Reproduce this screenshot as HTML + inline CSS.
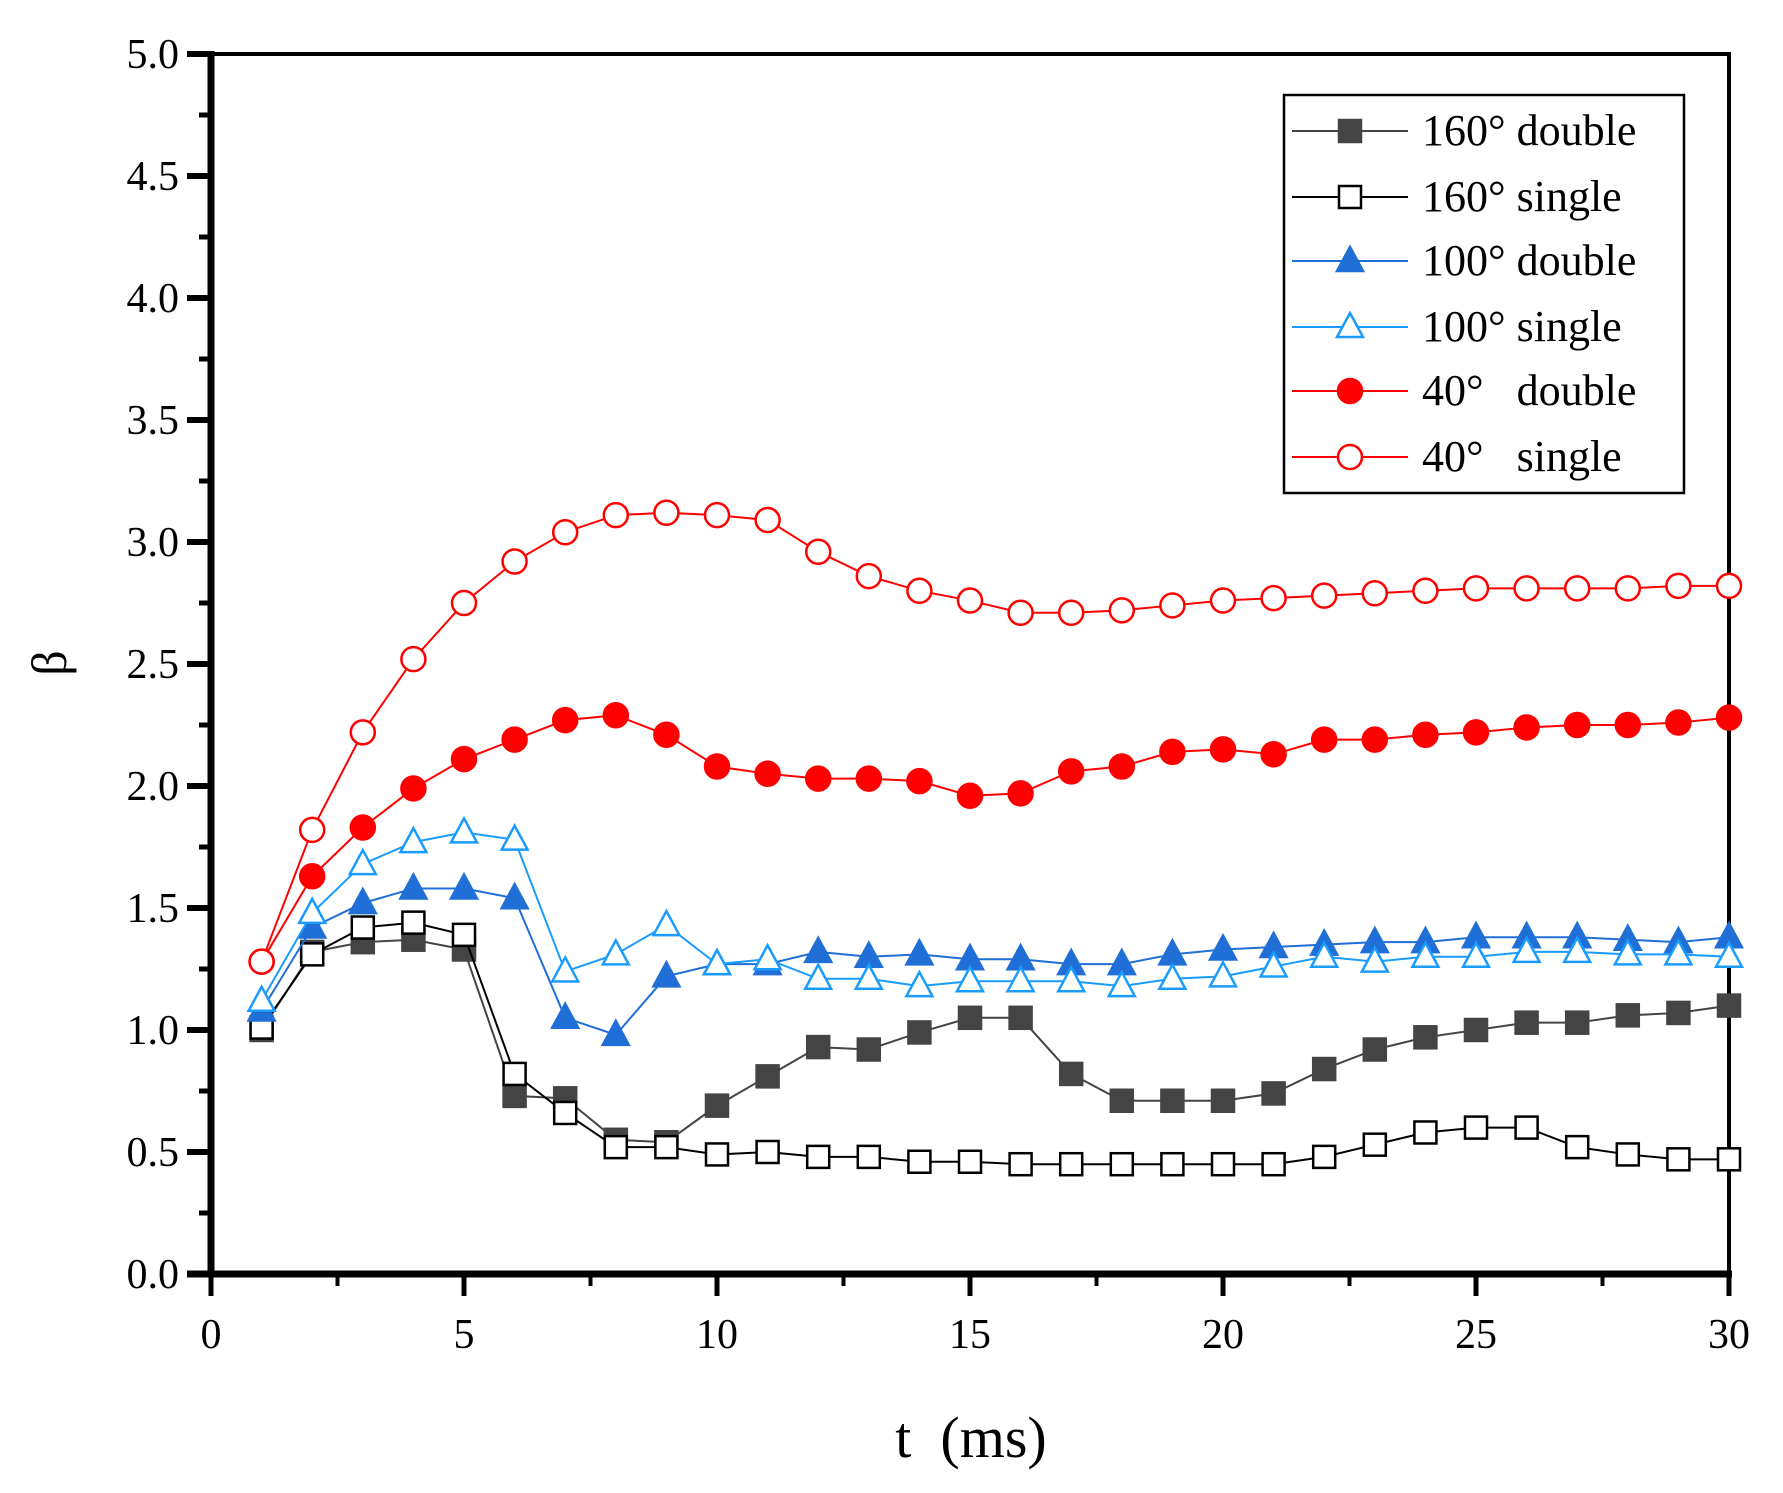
<!DOCTYPE html>
<html><head><meta charset="utf-8"><style>
html,body{margin:0;padding:0;background:#fff;}
svg{display:block;font-family:"Liberation Serif",serif;}
</style></head><body>
<svg id="chart" width="1783" height="1493" viewBox="0 0 1783 1493">
<g id="axes"></g>
<g id="series"></g>
<g id="legend"></g>
</svg>
<script>
const tValues = [1,2,3,4,5,6,7,8,9,10,11,12,13,14,15,16,17,18,19,20,21,22,23,24,25,26,27,28,29,30];
const d160double = [1.0,1.32,1.36,1.37,1.33,0.73,0.72,0.55,0.54,0.69,0.81,0.93,0.92,0.99,1.05,1.05,0.82,0.71,0.71,0.71,0.74,0.84,0.92,0.97,1.0,1.03,1.03,1.06,1.07,1.10];
const d160single = [1.01,1.31,1.42,1.44,1.39,0.82,0.66,0.52,0.52,0.49,0.50,0.48,0.48,0.46,0.46,0.45,0.45,0.45,0.45,0.45,0.45,0.48,0.53,0.58,0.60,0.60,0.52,0.49,0.47,0.47];
const d100double = [1.08,1.42,1.52,1.58,1.58,1.54,1.05,0.98,1.22,1.27,1.27,1.32,1.30,1.31,1.29,1.29,1.27,1.27,1.31,1.33,1.34,1.35,1.36,1.36,1.38,1.38,1.38,1.37,1.36,1.38];
const d100single = [1.12,1.48,1.68,1.77,1.81,1.78,1.24,1.31,1.43,1.27,1.29,1.21,1.21,1.18,1.20,1.20,1.20,1.18,1.21,1.22,1.26,1.30,1.28,1.30,1.30,1.32,1.32,1.31,1.31,1.30];
const d40double = [1.28,1.63,1.83,1.99,2.11,2.19,2.27,2.29,2.21,2.08,2.05,2.03,2.03,2.02,1.96,1.97,2.06,2.08,2.14,2.15,2.13,2.19,2.19,2.21,2.22,2.24,2.25,2.25,2.26,2.28];
const d40single = [1.28,1.82,2.22,2.52,2.75,2.92,3.04,3.11,3.12,3.11,3.09,2.96,2.86,2.80,2.76,2.71,2.71,2.72,2.74,2.76,2.77,2.78,2.79,2.80,2.81,2.81,2.81,2.81,2.82,2.82];
const xTicks = [0,5,10,15,20,25,30];
const yTicks = ["0.0","0.5","1.0","1.5","2.0","2.5","3.0","3.5","4.0","4.5","5.0"];
const legendLabels = ["160° double","160° single","100° double","100° single","40°   double","40°   single"];

const X0=211,X1=1729,Y0=1274,Y1=54;
function xs(v){return X0+(v-0)/30*(X1-X0);}
function ys(v){return Y0-(v-0)/5*(Y0-Y1);}
const NS="http://www.w3.org/2000/svg";
function mk(tag,attrs,parent){const e=document.createElementNS(NS,tag);for(const k in attrs)e.setAttribute(k,attrs[k]);parent.appendChild(e);return e;}
const axes=document.getElementById('axes');
const frame=mk('rect',{x:X0,y:Y1,width:X1-X0,height:Y0-Y1,fill:'none',stroke:'#000','stroke-width':4},axes);


const yl=mk('line',{x1:X0,y1:Y1-3,x2:X0,y2:Y0+3,stroke:'#000','stroke-width':7},axes);


const xl=mk('line',{x1:X0-24,y1:Y0,x2:X1+3,y2:Y0,stroke:'#000','stroke-width':7},axes);


yTicks.forEach((lab,i)=>{
  const v=parseFloat(lab),y=ys(v);
  const t=mk('line',{x1:X0-24,y1:y,x2:X0,y2:y,stroke:'#000','stroke-width':6},axes);
  
  
  const tx=mk('text',{x:X0-32,y:y+14,'text-anchor':'end','font-size':42},axes);
  tx.textContent=lab;
  
  
  if(i<yTicks.length-1){
    const m=mk('line',{x1:X0-12,y1:ys(v+0.25),x2:X0,y2:ys(v+0.25),stroke:'#000','stroke-width':5},axes);
    
    
  }
});
xTicks.forEach((v,i)=>{
  const x=xs(v);
  const t=mk('line',{x1:x,y1:Y0,x2:x,y2:Y0+22,stroke:'#000','stroke-width':5},axes);
  
  
  const tx=mk('text',{x:x,y:Y0+74,'text-anchor':'middle','font-size':42},axes);
  tx.textContent=v;
  
  
  if(i<xTicks.length-1){
    const m=mk('line',{x1:xs(v+2.5),y1:Y0,x2:xs(v+2.5),y2:Y0+12,stroke:'#000','stroke-width':4},axes);
    
    
  }
});
const xt=mk('text',{x:971,y:1457,'text-anchor':'middle','font-size':58,'xml:space':'preserve'},axes);
xt.setAttribute('style','white-space:pre');
xt.textContent='t  (ms)';


const yt=mk('text',{x:0,y:0,'text-anchor':'middle','font-size':50,transform:'translate(66,663) rotate(-90)'},axes);
yt.textContent='β';



const seriesDefs=[
 {data:d160double,color:'#444',shape:'square',fill:true,name:'160-double'},
 {data:d160single,color:'#000',shape:'square',fill:false,name:'160-single'},
 {data:d100double,color:'#1f6fd6',shape:'tri',fill:true,name:'100-double'},
 {data:d100single,color:'#1a9cff',shape:'tri',fill:false,name:'100-single'},
 {data:d40double,color:'#ff0000',shape:'circle',fill:true,name:'40-double'},
 {data:d40single,color:'#ff0000',shape:'circle',fill:false,name:'40-single'}
];
function marker(shape,x,y,color,fill,parent){
  const f=fill?color:'#fff';let e;
  if(shape==='square') e=mk('rect',{x:x-11,y:y-11,width:22,height:22,fill:f,stroke:color,'stroke-width':2.5},parent);
  else if(shape==='circle') e=mk('circle',{cx:x,cy:y,r:12,fill:f,stroke:color,'stroke-width':2.5},parent);
  else e=mk('polygon',{points:`${x},${y-14} ${x-13},${y+10} ${x+13},${y+10}`,fill:f,stroke:color,'stroke-width':2.5},parent);
  return e;
}
const sg=document.getElementById('series');
seriesDefs.forEach(s=>{
  const g=mk('g',{},sg);
  
  
  const pts=s.data.map((v,i)=>xs(tValues[i])+','+ys(v)).join(' ');
  const pl=mk('polyline',{points:pts,fill:'none',stroke:s.color,'stroke-width':2},g);
  
  
  s.data.forEach((v,i)=>{
    const m=marker(s.shape,xs(tValues[i]),ys(v),s.color,s.fill,g);
    
    
  });
});
const lg=document.getElementById('legend');
const box=mk('rect',{x:1284,y:95,width:400,height:398,fill:'#fff',stroke:'#000','stroke-width':2.5},lg);


const rowsY=[131,197,261,327,391,457];
seriesDefs.forEach((s,i)=>{
  const g=mk('g',{},lg);
  
  
  mk('line',{x1:1292,y1:rowsY[i],x2:1408,y2:rowsY[i],stroke:s.color,'stroke-width':2},g);
  marker(s.shape,1350,rowsY[i],s.color,s.fill,g);
  const t=mk('text',{x:1422,y:rowsY[i]+14,'font-size':44,'xml:space':'preserve'},g);
  t.setAttribute('style','white-space:pre');
  t.textContent=legendLabels[i];
});
</script>
</body></html>
